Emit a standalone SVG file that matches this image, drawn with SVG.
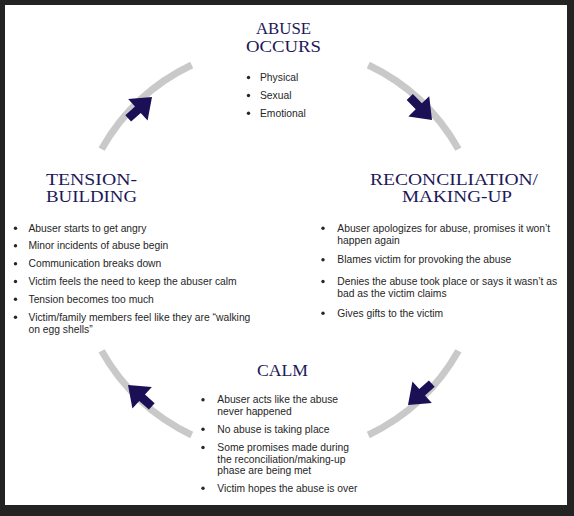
<svg xmlns="http://www.w3.org/2000/svg" xmlns:xlink="http://www.w3.org/1999/xlink" width="574" height="516" viewBox="0 0 574 516">
<style>
.title{font-family:"Liberation Serif","Times New Roman",serif;font-size:16px;fill:#1d1858;}
.txt{font-family:"Liberation Sans",Arial,sans-serif;font-size:10.3px;fill:#262626;}
.dot{fill:#262626;}
.arc{fill:none;stroke:#c9c9c9;stroke-width:7;}
.arr{fill:#1b0f55;}
</style>
<defs>
<path id="arrow" d="M0,0 L-19,-14.5 L-19,-4.3 L-32,-4.3 L-32,4.3 L-19,4.3 L-19,14.5 Z"/>
</defs>
<rect x="0" y="0" width="574" height="516" fill="#232323"/>
<rect x="5" y="5" width="562" height="500" fill="#ffffff"/>

<g id="connectors">
<path class="arc" d="M101.6,149.1 A205,205 0 0 1 191.7,65"/>
<path class="arc" d="M368.3,65 A205,205 0 0 1 458.4,149.1"/>
<path class="arc" d="M458.4,350.9 A205,205 0 0 1 368.3,435"/>
<path class="arc" d="M191.7,435 A205,205 0 0 1 101.6,350.9"/>
<use xlink:href="#arrow" class="arr" transform="translate(152,97) rotate(-42)"/>
<use xlink:href="#arrow" class="arr" transform="translate(432,120) rotate(46)"/>
<use xlink:href="#arrow" class="arr" transform="translate(408,405) rotate(138)"/>
<use xlink:href="#arrow" class="arr" transform="translate(128,385) rotate(-138)"/>
</g>

<g id="abuse">
<text class="title" x="256" y="34" textLength="55" lengthAdjust="spacingAndGlyphs">ABUSE</text>
<text class="title" x="246" y="52" textLength="75" lengthAdjust="spacingAndGlyphs">OCCURS</text>
<circle class="dot" cx="248.5" cy="77.5" r="1.7"/>
<text class="txt" x="260" y="81">Physical</text>
<circle class="dot" cx="248.5" cy="95.5" r="1.7"/>
<text class="txt" x="260" y="99">Sexual</text>
<circle class="dot" cx="248.5" cy="113.2" r="1.7"/>
<text class="txt" x="260" y="116.7">Emotional</text>
</g>

<g id="reconciliation">
<text class="title" x="370" y="185" textLength="168" lengthAdjust="spacingAndGlyphs">RECONCILIATION/</text>
<text class="title" x="402" y="202" textLength="110" lengthAdjust="spacingAndGlyphs">MAKING-UP</text>
<circle class="dot" cx="323" cy="228.2" r="1.7"/>
<text class="txt" x="337.3" y="231.7">Abuser apologizes for abuse, promises it won’t</text>
<text class="txt" x="337.3" y="243.5">happen again</text>
<circle class="dot" cx="323" cy="259.8" r="1.7"/>
<text class="txt" x="337.3" y="263.3">Blames victim for provoking the abuse</text>
<circle class="dot" cx="323" cy="281.5" r="1.7"/>
<text class="txt" x="337.3" y="285">Denies the abuse took place or says it wasn’t as</text>
<text class="txt" x="337.3" y="296.8">bad as the victim claims</text>
<circle class="dot" cx="323" cy="313.2" r="1.7"/>
<text class="txt" x="337.3" y="316.7">Gives gifts to the victim</text>
</g>

<g id="calm">
<text class="title" x="257" y="376" textLength="51" lengthAdjust="spacingAndGlyphs">CALM</text>
<circle class="dot" cx="203" cy="399.8" r="1.7"/>
<text class="txt" x="217.3" y="403.3">Abuser acts like the abuse</text>
<text class="txt" x="217.3" y="414.5">never happened</text>
<circle class="dot" cx="203" cy="429.2" r="1.7"/>
<text class="txt" x="217.3" y="432.7">No abuse is taking place</text>
<circle class="dot" cx="203" cy="447.5" r="1.7"/>
<text class="txt" x="217.3" y="451">Some promises made during</text>
<text class="txt" x="217.3" y="462.7">the reconciliation/making-up</text>
<text class="txt" x="217.3" y="474.4">phase are being met</text>
<circle class="dot" cx="203" cy="488.2" r="1.7"/>
<text class="txt" x="217.3" y="491.7">Victim hopes the abuse is over</text>
</g>

<g id="tension">
<text class="title" x="46" y="185" textLength="91" lengthAdjust="spacingAndGlyphs">TENSION-</text>
<text class="title" x="46" y="202" textLength="91" lengthAdjust="spacingAndGlyphs">BUILDING</text>
<circle class="dot" cx="15.5" cy="228.2" r="1.7"/>
<text class="txt" x="28.5" y="231.7">Abuser starts to get angry</text>
<circle class="dot" cx="15.5" cy="245.8" r="1.7"/>
<text class="txt" x="28.5" y="249.3">Minor incidents of abuse begin</text>
<circle class="dot" cx="15.5" cy="263.8" r="1.7"/>
<text class="txt" x="28.5" y="267.3">Communication breaks down</text>
<circle class="dot" cx="15.5" cy="281.5" r="1.7"/>
<text class="txt" x="28.5" y="285">Victim feels the need to keep the abuser calm</text>
<circle class="dot" cx="15.5" cy="299.2" r="1.7"/>
<text class="txt" x="28.5" y="302.7">Tension becomes too much</text>
<circle class="dot" cx="15.5" cy="317.2" r="1.7"/>
<text class="txt" x="28.5" y="320.7">Victim/family members feel like they are “walking</text>
<text class="txt" x="28.5" y="332.7">on egg shells”</text>
</g>
</svg>
